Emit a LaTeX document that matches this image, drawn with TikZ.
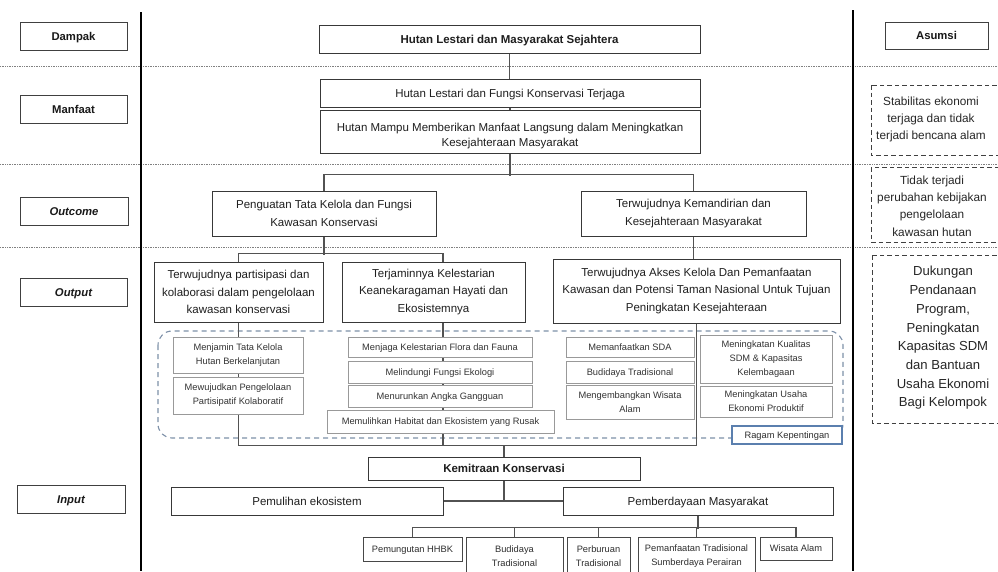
\documentclass[tikz,border=0pt]{standalone}
\usepackage{fontspec}
\setmainfont{Liberation Sans}
\usetikzlibrary{backgrounds,calc}
\definecolor{regionC}{HTML}{7D90A8}
\definecolor{ragamC}{HTML}{5B7FAE}
\newcommand\bx[7]{\node[#1, minimum width={#5-#3}, minimum height={#6-#4}] (#2) at ({(#3+#5)/2},{(#4+#6)/2}) {#7};}
\begin{document}
\begin{tikzpicture}[x=1pt,y=-1pt,
  mainbox/.style={draw=black!78, line width=1pt, fill=white, inner sep=1pt, align=center, text=black!88, font=\fontsize{11.5}{17.5}\selectfont},
  oneline/.style={text height=10.3pt, text depth=2pt},
  smallone/.style={text height=8.6pt, text depth=2pt},
  boldbox/.style={mainbox, oneline, font=\fontsize{11.5}{13}\selectfont\bfseries},
  lab/.style={draw=black!75, line width=1pt, fill=white, inner sep=1pt, oneline, text=black!90, font=\fontsize{11.3}{13}\selectfont\bfseries},
  subbox/.style={draw=black!40, line width=0.9pt, fill=white, inner sep=1pt, align=center, text=black!80, font=\fontsize{9.3}{14}\selectfont},
  botbox/.style={draw=black!72, line width=1pt, fill=white, inner sep=1pt, align=center, text=black!82, font=\fontsize{9.3}{14}\selectfont},
  ragam/.style={draw=ragamC, line width=1.8pt, fill=white, inner sep=1pt, smallone, text=black!82, font=\fontsize{9.3}{11}\selectfont},
  asmtext/.style={align=center, inner sep=0pt, text=black!85, font=\fontsize{11.8}{17.2}\selectfont},
  conn/.style={draw=black!68, line width=1.1pt},
  divider/.style={draw=black, line width=1.6pt},
  rowsep/.style={draw=black!50, line width=0.6pt, dash pattern=on 0.6pt off 1.1pt},
  asmdash/.style={draw=black!75, line width=1pt, dash pattern=on 4.5pt off 3pt},
  region/.style={draw=regionC, line width=1.1pt, dash pattern=on 5pt off 4pt, rounded corners=14pt}
]
\useasboundingbox (0,0) rectangle (998,571);

% --- column labels
\bx{lab}{lDampak}{20}{22}{127}{50}{Dampak}
\bx{lab}{lManfaat}{20}{95}{127}{123}{Manfaat}
\bx{lab}{lOutcome}{20}{197}{128}{225}{\itshape Outcome}
\bx{lab}{lOutput}{20}{278}{127}{306}{\itshape Output}
\bx{lab}{lInput}{17}{485}{125}{513}{\itshape Input}
\bx{lab}{lAsumsi}{885}{22}{988}{49}{Asumsi}

% --- dividers
\draw[divider] (141,12) -- (141,571);
\draw[divider] (853,10) -- (853,571);

% --- main chain
\bx{boldbox}{d1}{319}{25}{700}{53}{Hutan Lestari dan Masyarakat Sejahtera}
\bx{mainbox,oneline}{m1}{320}{79}{700}{107}{Hutan Lestari dan Fungsi Konservasi Terjaga}
\bx{mainbox,font=\fontsize{11.5}{15}\selectfont}{m2}{320}{110}{700}{153}{\rule{0pt}{17pt}Hutan Mampu Memberikan Manfaat Langsung dalam Meningkatkan\\Kesejahteraan Masyarakat}
\bx{mainbox}{o1}{212}{191}{436}{236}{Penguatan Tata Kelola dan Fungsi\\Kawasan Konservasi}
\bx{mainbox}{o2}{581}{191}{806}{236}{Terwujudnya Kemandirian dan\\Kesejahteraan Masyarakat}
\bx{mainbox}{p1}{154}{262}{323}{322}{Terwujudnya partisipasi dan\\kolaborasi dalam pengelolaan\\kawasan konservasi}
\bx{mainbox}{p2}{342}{262}{525}{322}{Terjaminnya Kelestarian\\Keanekaragaman Hayati dan\\Ekosistemnya}
\bx{mainbox}{p3}{553}{259}{840}{323}{Terwujudnya Akses Kelola Dan Pemanfaatan\\Kawasan dan Potensi Taman Nasional Untuk Tujuan\\Peningkatan Kesejahteraan}

% --- activity groups
\bx{subbox}{g11}{173}{337}{303}{373}{Menjamin Tata Kelola\\Hutan Berkelanjutan}
\bx{subbox}{g12}{173}{377}{303}{414}{Mewujudkan Pengelolaan\\Partisipatif Kolaboratif}
\bx{subbox,smallone}{g21}{348}{337}{532}{357}{Menjaga Kelestarian Flora dan Fauna}
\bx{subbox,smallone}{g22}{348}{361}{532}{383}{Melindungi Fungsi Ekologi}
\bx{subbox,smallone}{g23}{348}{385}{532}{407}{Menurunkan Angka Gangguan}
\bx{subbox,smallone}{g24}{327}{410}{554}{433}{Memulihkan Habitat dan Ekosistem yang Rusak}
\bx{subbox,smallone}{g31}{566}{337}{694}{357}{Memanfaatkan SDA}
\bx{subbox,smallone}{g32}{566}{361}{694}{383}{Budidaya Tradisional}
\bx{subbox}{g33}{566}{385}{694}{419}{Mengembangkan Wisata\\Alam}
\bx{subbox}{g41}{700}{335}{832}{383}{Meningkatan Kualitas\\SDM \& Kapasitas\\Kelembagaan}
\bx{subbox}{g42}{700}{386}{832}{417}{Meningkatan Usaha\\Ekonomi Produktif}
\bx{ragam}{rg}{732}{426}{842}{444}{Ragam Kepentingan}

% --- input
\bx{boldbox}{kem}{368}{457}{640}{480}{Kemitraan Konservasi}
\bx{mainbox,oneline}{pem1}{171}{487}{443}{515}{Pemulihan ekosistem}
\bx{mainbox,oneline}{pem2}{563}{487}{833}{515}{Pemberdayaan Masyarakat}
\bx{botbox,smallone}{b1}{363}{537}{462}{561}{Pemungutan HHBK}
\bx{botbox}{b2}{466}{537}{563}{575}{Budidaya\\Tradisional}
\bx{botbox}{b3}{567}{537}{630}{575}{Perburuan\\Tradisional}
\bx{botbox}{b4}{638}{537}{755}{575}{Pemanfaatan Tradisional\\Sumberdaya Perairan}
\bx{botbox,smallone}{b5}{760}{537}{832}{560}{Wisata Alam}

% --- assumptions
\node[asmtext] (as1) at (931,119.5) {Stabilitas ekonomi\\terjaga dan tidak\\terjadi bencana alam};
\node[asmtext] (as2) at (932,206) {Tidak terjadi\\perubahan kebijakan\\pengelolaan\\kawasan hutan};
\node[asmtext, font=\fontsize{13.1}{18.7}\selectfont] (as3) at (943,338) {Dukungan\\Pendanaan\\Program,\\Peningkatan\\Kapasitas SDM\\dan Bantuan\\Usaha Ekonomi\\Bagi Kelompok};
\draw[asmdash] (871,85) rectangle (1010,155);
\draw[asmdash] (871,167) rectangle (1010,242);
\draw[asmdash] (872,255) rectangle (1010,423);

\begin{scope}[on background layer]
  \draw[rowsep] (0,66) -- (998,66);
  \draw[rowsep] (0,164) -- (998,164);
  \draw[rowsep] (0,247) -- (998,247);
  \draw[region] (158,331) rectangle (843,438);
  \draw[conn] (d1.south) -- (d1.south |- m1.north);
  \draw[conn] (m1.south) -- (m2.north);
  \draw[conn] (m2.south) -- ++(0,22);
  \draw[conn] (o1.north) -- ++(0,-16) -| (o2.north);
  \draw[conn] (o1.south) -- ++(0,18);
  \draw[conn] (p1.north) -- ++(0,-8) -| ([xshift=9.5pt]p2.north);
  \draw[conn] (o2.south) -- (o2.south |- p3.north);
  \draw[conn] (p1.south) -- ++(0,123) -| (p3.south);
  \draw[conn] ([xshift=9.5pt]p2.south) -- ++(0,123);
  \draw[conn] (kem.north) -- ++(0,-12);
  \draw[conn] (kem.south) -- (kem.south |- pem1.east);
  \draw[conn] (pem1.east) -- (pem2.west);
  \draw[conn] (pem2.south) -- ++(0,13);
  \draw[conn] (b1.north) -- ++(0,-9) -| (b5.north);
  \draw[conn] (b2.north) -- ++(0,-9);
  \draw[conn] (b3.north) -- ++(0,-9);
  \draw[conn] (b4.north) -- ++(0,-9);
\end{scope}
\end{tikzpicture}
\end{document}
